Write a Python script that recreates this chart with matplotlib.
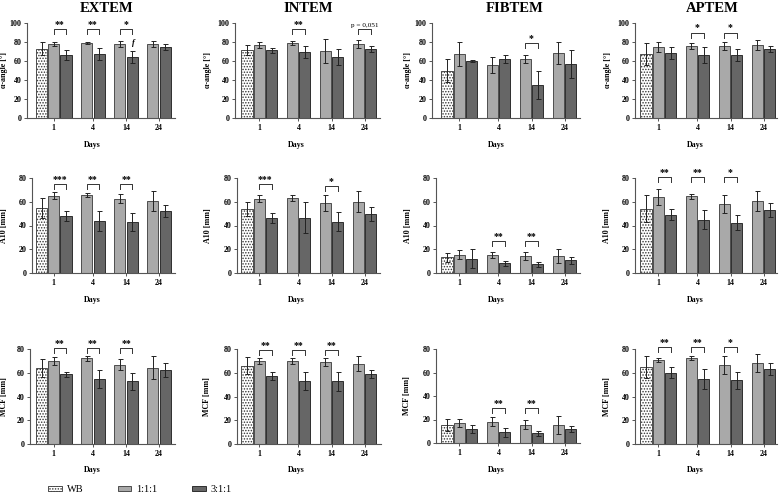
import matplotlib
matplotlib.use('Agg')
import matplotlib.pyplot as plt
from matplotlib.patches import Patch

# ---------------- data ----------------
tests = ['EXTEM', 'INTEM', 'FIBTEM', 'APTEM']
days = ['1', '4', '14', '24']
params = ['α-angle [°]', 'A10 [mm]', 'MCF [mm]']
ymax = [100, 80, 80]
yticks = [[0, 20, 40, 60, 80, 100], [0, 20, 40, 60, 80], [0, 20, 40, 60, 80]]

# alpha-angle
alpha_wb = [73, 71.2, 49.8, 67.4]
alpha_wb_sd = [7, 5.3, 12.3, 11.7]
alpha_111 = [[78, 79, 78, 78], [76.5, 79, 70.5, 78], [67.4, 55.8, 61.8, 68.4], [74.7, 75.8, 75.8, 76.8]]
alpha_111_sd = [[2, 1, 3, 3.3], [3.3, 2.3, 12.6, 4.2], [12.4, 8.4, 4, 11.6], [5, 3, 4, 5.3]]
alpha_311 = [[66.3, 67.4, 64.6, 74.7], [71.2, 69.5, 64.2, 72.6], [59.6, 62.1, 34.7, 56.8], [68.4, 66.3, 66.3, 72.6]]
alpha_311_sd = [[5.3, 6, 6.3, 3], [2.6, 6.3, 8.6, 3], [1, 4.2, 14.7, 14.6], [6, 8.4, 6.3, 3.3]]

# A10
a10_wb = [54.7, 53.9, 13.2, 54.2]
a10_wb_sd = [8.4, 6, 3.8, 11.1]
a10_111 = [[65.1, 66, 62.6, 60.6], [62.6, 63.2, 59, 60], [15.4, 15.4, 14.6, 14], [64, 64.8, 58.1, 60.6]]
a10_111_sd = [[3.2, 1.7, 3.8, 8.7], [2.7, 2.5, 6.7, 8.7], [3.7, 2.4, 3.5, 5.8], [6.6, 2.1, 7.7, 8.4]]
a10_311 = [[48, 43.8, 42.9, 52.2], [46.3, 46.6, 43.2, 49.7], [12.1, 8.4, 7.3, 10.7], [49.1, 44.9, 42.4, 53]]
a10_311_sd = [[3.9, 8.1, 7.7, 5], [4, 13.2, 8.1, 5.9], [7.9, 2.1, 2.1, 2.8], [4.8, 8, 6.6, 5.9]]

# MCF
mcf_wb = [64.3, 66, 15.2, 64.6]
mcf_wb_sd = [7.7, 7.2, 5, 9.1]
mcf_111 = [[70.2, 72.1, 66.8, 64.3], [70.2, 69.6, 68.8, 67.6], [16.8, 18.2, 15.7, 15.2], [70.5, 72.1, 66.8, 68.5]]
mcf_111_sd = [[3.4, 2.4, 4.9, 9.8], [2.5, 2.5, 3.4, 6.5], [3.4, 3.8, 3.8, 7.4], [1.8, 1.7, 7.7, 7.6]]
mcf_311 = [[58.7, 54.5, 52.8, 62], [57, 53.3, 52.8, 58.7], [12.1, 9, 8.1, 12.1], [60, 54.7, 53.6, 62.9]]
mcf_311_sd = [[2.2, 7.7, 7.4, 5.9], [3.4, 7.6, 8, 3.4], [3.2, 3.5, 2, 2.5], [4.6, 8.1, 6.9, 5]]

# significance: (day index, label, bracket height)
alpha_sig = [[(0, '**', 93.7), (1, '**', 93.7), (2, '*', 93.7)],
             [(1, '**', 93.7), (3, 'p = 0,051', 93.7)],
             [(2, '*', 79)],
             [(1, '*', 90), (2, '*', 90)]]
a10_sig = [[(0, '***', 75.2), (1, '**', 75.2), (2, '**', 75.2)],
           [(0, '***', 75), (2, '*', 73)],
           [(1, '**', 27), (2, '**', 27)],
           [(0, '**', 80.8), (1, '**', 80.8), (2, '*', 80.8)]]
mcf_sig = [[(0, '**', 80.6), (1, '**', 80.6), (2, '**', 80.6)],
           [(0, '**', 79), (1, '**', 79), (2, '**', 79)],
           [(1, '**', 30), (2, '**', 30)],
           [(0, '**', 81.4), (1, '**', 81.4), (2, '*', 81.4)]]

WB = [alpha_wb, a10_wb, mcf_wb]
WB_SD = [alpha_wb_sd, a10_wb_sd, mcf_wb_sd]
R111 = [alpha_111, a10_111, mcf_111]
R111_SD = [alpha_111_sd, a10_111_sd, mcf_111_sd]
R311 = [alpha_311, a10_311, mcf_311]
R311_SD = [alpha_311_sd, a10_311_sd, mcf_311_sd]
SIG = [alpha_sig, a10_sig, mcf_sig]

# ---------------- layout ----------------
W, H = 779, 499
plt.rcParams['font.family'] = ['Liberation Serif', 'DejaVu Serif']
plt.rcParams['font.weight'] = 'bold'
plt.rcParams['hatch.linewidth'] = 0.7

fig = plt.figure(figsize=(W / 100, H / 100), dpi=100)

# axes pixel boxes: (left, right, y0, ytop)
boxes = [
    [(27, 175, 118, 23), (235, 380, 118, 23), (432, 580, 118, 23), (635, 777, 118, 23)],
    [(32, 175, 273, 178), (237, 380, 273, 178), (436, 580, 273, 178), (635, 777, 273, 178)],
    [(30, 175, 444, 349), (237, 381, 444, 349), (436, 580, 443, 349), (635, 777, 444, 349)],
]
wb_center_px = [41.5, 247, 447, 646]
PPU = 12.25
ylabel_px = [[8, 212, 412, 612], [8, 212, 412, 611], [8, 211, 411, 611]]
days_x_px = [92, 296, 496, 695]
days_y_px = [145, 300, 470]
title_x_px = [107, 308, 515, 712]

wb_pos = 0.0
pos111 = [1.0, 3.7, 6.4, 9.1]
pos311 = [2.0, 4.7, 7.4, 10.1]
tick_pos = [1.0, 4.2, 6.9, 9.6]
bw = 0.9

c111, e111 = '#a9a9a9', '#4d4d4d'
c311, e311 = '#666666', '#2e2e2e'
spine_c = '#555555'
wb_hatch = '......'
ekw = dict(fmt='none', ecolor='#222222', elinewidth=0.7, capsize=1.8, capthick=0.7)

for r in range(3):
    for c in range(4):
        left, right, y0, yt = boxes[r][c]
        ax = fig.add_axes([left / W, 1 - y0 / H, (right - left) / W, (y0 - yt) / H])
        ax.set_xlim((left - wb_center_px[c]) / PPU, (right - wb_center_px[c]) / PPU)
        ax.set_ylim(0, ymax[r])

        ax.bar(wb_pos, WB[r][c], bw, color='white', edgecolor='#333333', hatch=wb_hatch, linewidth=0.6)
        ax.errorbar(wb_pos, WB[r][c], yerr=WB_SD[r][c], **ekw)
        ax.bar(pos111, R111[r][c], bw, color=c111, edgecolor=e111, linewidth=0.7)
        ax.errorbar(pos111, R111[r][c], yerr=R111_SD[r][c], **ekw)
        ax.bar(pos311, R311[r][c], bw, color=c311, edgecolor=e311, linewidth=0.7)
        ax.errorbar(pos311, R311[r][c], yerr=R311_SD[r][c], **ekw)

        tick_len = 5 * ymax[r] / (y0 - yt)
        for d, lab, yb in SIG[r][c]:
            x1, x2 = pos111[d], pos311[d]
            ax.plot([x1, x1, x2, x2], [yb - tick_len, yb, yb, yb - tick_len],
                    color='#333333', lw=0.7, clip_on=False)
            if lab.startswith('p'):
                ax.annotate(lab, ((x1 + x2) / 2, yb), xytext=(0, 1), textcoords='offset points',
                            ha='center', va='bottom', fontsize=5.2, fontweight='normal',
                            annotation_clip=False)
            else:
                ax.annotate(lab, ((x1 + x2) / 2, yb), xytext=(0, 0), textcoords='offset points',
                            ha='center', va='bottom', fontsize=7, fontweight='bold',
                            annotation_clip=False)
        if r == 0 and c == 0:
            ax.text(pos311[2] + 0.1, 78.5, 'f', ha='center', va='center', fontsize=6,
                    fontweight='bold', fontstyle='italic')

        for s in ['top', 'right']:
            ax.spines[s].set_visible(False)
        for s in ['left', 'bottom']:
            ax.spines[s].set_color(spine_c)
            ax.spines[s].set_linewidth(0.8)
        ax.set_yticks(yticks[r])
        ax.set_xticks(tick_pos)
        ax.set_xticklabels(days)
        ax.tick_params(axis='both', length=2.5, width=0.7, color=spine_c, labelsize=5.8, pad=1.5)

        ax.set_ylabel(params[r], fontsize=5.8, fontweight='bold')
        ax.yaxis.set_label_coords((ylabel_px[r][c] - left) / (right - left), 0.5)
        ax.set_xlabel('Days', fontsize=5.8, fontweight='bold')
        ax.xaxis.label.set_va('center')
        ax.xaxis.set_label_coords((days_x_px[c] - left) / (right - left),
                                  -(days_y_px[r] - y0) / (y0 - yt))

for c in range(4):
    fig.text(title_x_px[c] / W, 1 - 8 / H, tests[c], ha='center', va='center',
             fontsize=10.5, fontweight='bold')

handles = [Patch(facecolor='white', edgecolor='#333333', hatch=wb_hatch, linewidth=0.6),
           Patch(facecolor=c111, edgecolor=e111, linewidth=0.7),
           Patch(facecolor=c311, edgecolor=e311, linewidth=0.7)]
fig.legend(handles, ['WB', '1:1:1', '3:1:1'], loc='center left',
           bbox_to_anchor=(48 / W, 1 - 490 / H), ncol=3, frameon=False,
           prop={'family': 'Liberation Serif', 'weight': 'normal', 'size': 7.5},
           handlelength=1.3, handleheight=0.4, handletextpad=0.5, columnspacing=3.3,
           borderaxespad=0, borderpad=0)

fig.savefig('out.png', dpi=100)
